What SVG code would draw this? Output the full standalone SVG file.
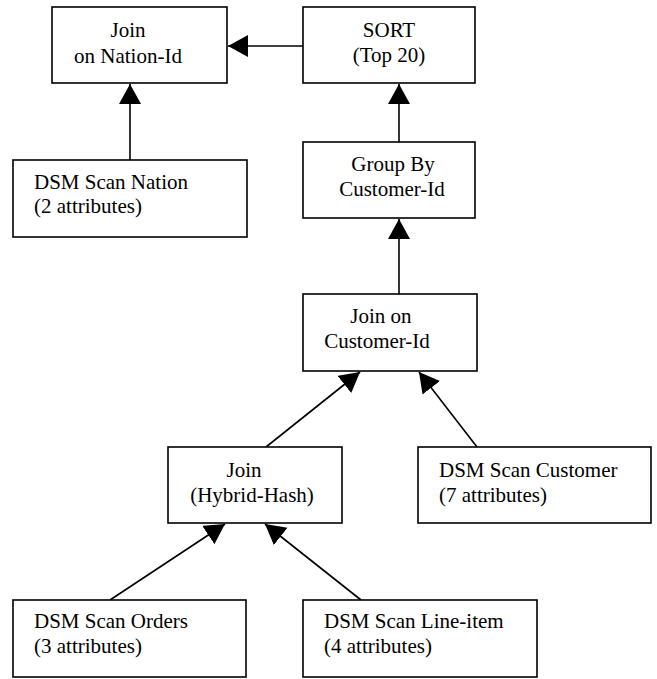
<svg xmlns="http://www.w3.org/2000/svg" width="657" height="679" viewBox="0 0 657 679">
  <style>
    .box { fill: #fff; stroke: #000; stroke-width: 1.6; }
    .lbl { font-family: "Liberation Serif", "Times New Roman", serif; font-size: 21px; fill: #000; }
    .mid { text-anchor: middle; }
    .edge { stroke: #000; stroke-width: 1.6; fill: none; marker-end: url(#head); }
  </style>
  <defs>
    <marker id="head" markerUnits="userSpaceOnUse" markerWidth="22" markerHeight="24" refX="20" refY="11" orient="auto">
      <path d="M0,0 L20,11 L0,22 Z" fill="#000"/>
    </marker>
  </defs>

  <g id="connectors">
    <line class="edge" x1="303" y1="46" x2="228" y2="46"/>
    <line class="edge" x1="130" y1="160" x2="130" y2="84"/>
    <line class="edge" x1="399" y1="142" x2="399" y2="84"/>
    <line class="edge" x1="399" y1="294" x2="399" y2="219"/>
    <line class="edge" x1="266" y1="447" x2="360" y2="372"/>
    <line class="edge" x1="477" y1="447" x2="419" y2="372"/>
    <line class="edge" x1="110" y1="600" x2="225" y2="524"/>
    <line class="edge" x1="361" y1="600" x2="265" y2="524"/>
  </g>

  <g id="join-nation">
    <rect class="box" x="52" y="7" width="175" height="76"/>
    <text class="lbl mid" x="128" y="37">Join</text>
    <text class="lbl mid" x="128" y="63">on Nation-Id</text>
  </g>

  <g id="sort">
    <rect class="box" x="303" y="7" width="172" height="76"/>
    <text class="lbl mid" x="389" y="37">SORT</text>
    <text class="lbl mid" x="389" y="62">(Top 20)</text>
  </g>

  <g id="scan-nation">
    <rect class="box" x="13" y="160" width="234" height="77"/>
    <text class="lbl" x="34" y="189">DSM Scan Nation</text>
    <text class="lbl" x="34" y="213">(2 attributes)</text>
  </g>

  <g id="group-by">
    <rect class="box" x="303" y="142" width="172" height="76"/>
    <text class="lbl mid" x="393" y="171">Group By</text>
    <text class="lbl mid" x="392" y="196">Customer-Id</text>
  </g>

  <g id="join-customer">
    <rect class="box" x="303" y="294" width="174" height="77"/>
    <text class="lbl mid" x="381" y="323">Join on</text>
    <text class="lbl mid" x="377" y="348">Customer-Id</text>
  </g>

  <g id="join-hybrid">
    <rect class="box" x="168" y="447" width="174" height="76"/>
    <text class="lbl mid" x="244" y="477">Join</text>
    <text class="lbl mid" x="252" y="502">(Hybrid-Hash)</text>
  </g>

  <g id="scan-customer">
    <rect class="box" x="418" y="447" width="233" height="76"/>
    <text class="lbl" x="439" y="477">DSM Scan Customer</text>
    <text class="lbl" x="439" y="502">(7 attributes)</text>
  </g>

  <g id="scan-orders">
    <rect class="box" x="13" y="600" width="233" height="77"/>
    <text class="lbl" x="34" y="628">DSM Scan Orders</text>
    <text class="lbl" x="34" y="653">(3 attributes)</text>
  </g>

  <g id="scan-lineitem">
    <rect class="box" x="303" y="600" width="234" height="77"/>
    <text class="lbl" x="324" y="628">DSM Scan Line-item</text>
    <text class="lbl" x="324" y="653">(4 attributes)</text>
  </g>
</svg>
